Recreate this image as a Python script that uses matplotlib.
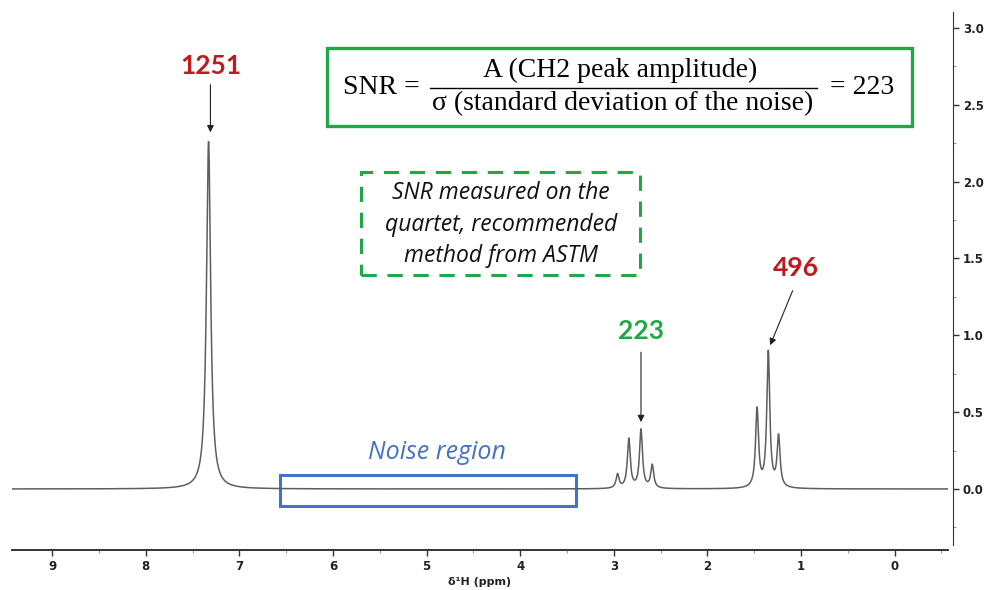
import numpy as np
import matplotlib
matplotlib.use("Agg")
import matplotlib.pyplot as plt
from matplotlib.patches import Rectangle
from matplotlib.ticker import MultipleLocator

# peak table (ppm, height, half width)
peak_ppm = [7.33, 2.96, 2.84, 2.71, 2.59, 1.47, 1.35, 1.24]
peak_height = [2.26, 0.09, 0.32, 0.38, 0.15, 0.51, 0.88, 0.33]
peak_hwhm = [0.027, 0.019, 0.019, 0.019, 0.019, 0.019, 0.019, 0.019]

x_ticks = [9, 8, 7, 6, 5, 4, 3, 2, 1, 0]
y_ticks = [0.0, 0.5, 1.0, 1.5, 2.0, 2.5, 3.0]

snr_labels = ["1251", "223", "496"]

red = "#c0191f"
green = "#20a848"
blue = "#4472c4"

ppm = np.linspace(9.43, -0.57, 8000)
intensity = np.zeros_like(ppm)
for c, h, w in zip(peak_ppm, peak_height, peak_hwhm):
    intensity += h / (1 + ((ppm - c) / w) ** 2)

fig = plt.figure(figsize=(9.84, 5.9), dpi=100)
ax = fig.add_axes([12 / 984, 40 / 590, 936 / 984, 538 / 590])
ax.plot(ppm, intensity, color="#5e5e5e", lw=1.1)
ax.set_xlim(9.43, -0.57)
ax.set_ylim(-0.397, 3.103)

for s in ["left", "top"]:
    ax.spines[s].set_visible(False)
ax.spines["right"].set_position(("outward", 3.6))
ax.spines["right"].set_bounds(-0.365, 3.10)
ax.spines["right"].set_color("#333333")
ax.spines["bottom"].set_color("#333333")
ax.spines["bottom"].set_linewidth(1.4)
ax.yaxis.tick_right()
ax.set_xticks(x_ticks)
ax.set_yticks(y_ticks)
ax.set_yticklabels([f"{v:.1f}" for v in y_ticks])
ax.xaxis.set_minor_locator(MultipleLocator(0.5))
ax.yaxis.set_minor_locator(MultipleLocator(0.25))
ax.tick_params(which="major", length=4, width=1, colors="#333333", labelsize=8.5, pad=3)
ax.tick_params(which="minor", length=2.5, width=0.8, colors="#999999")
for lab in ax.get_xticklabels() + ax.get_yticklabels():
    lab.set_fontweight("bold")
    lab.set_color("#222222")
ax.set_xlabel("δ¹H (ppm)", fontsize=8, fontweight="bold", color="#222222", labelpad=3)

# peak SNR labels
arrow = dict(arrowstyle="-|>", color="#222222", lw=0.8, mutation_scale=10, shrinkA=0, shrinkB=0)
ax.annotate("", xy=(7.31, 2.32), xytext=(7.31, 2.63), arrowprops=arrow)
ax.text(7.31, 2.75, snr_labels[0], color=red, fontsize=19, fontweight="bold",
        family="Lato", ha="center", va="center")
ax.annotate("", xy=(2.71, 0.435), xytext=(2.71, 0.89), arrowprops=arrow)
ax.text(2.71, 1.03, snr_labels[1], color=green, fontsize=19, fontweight="bold",
        family="Lato", ha="center", va="center")
ax.annotate("", xy=(1.33, 0.935), xytext=(1.09, 1.29), arrowprops=arrow)
ax.text(1.06, 1.44, snr_labels[2], color=red, fontsize=19, fontweight="bold",
        family="Lato", ha="center", va="center")

# noise region box
ax.add_patch(Rectangle((3.40, -0.11), 6.57 - 3.40, 0.20, fill=False, ec=blue, lw=2.2))
ax.text(4.89, 0.235, "Noise region", color=blue, fontsize=18, style="italic",
        family="Open Sans", ha="center", va="center")

# formula box (figure pixel coords)
def fx(px):
    return px / 984

def fy(py):
    return 1 - py / 590

fig.patches.append(Rectangle((fx(327), fy(126)), fx(912) - fx(327), fy(48) - fy(126),
                             transform=fig.transFigure, fill=False, ec=green, lw=2.4))
serif = "Liberation Serif"
fig.text(fx(381), fy(88), "SNR =", family=serif, fontsize=20, ha="center", va="center")
fig.text(fx(620), fy(70), "A (CH2 peak amplitude)", family=serif, fontsize=20,
         ha="center", va="center")
fig.add_artist(plt.Line2D([fx(430), fx(817)], [fy(88), fy(88)], transform=fig.transFigure,
                          color="black", lw=1.0))
fig.text(fx(623), fy(104), "σ (standard deviation of the noise)", family=serif, fontsize=20,
         ha="center", va="center")
fig.text(fx(862), fy(88), "= 223", family=serif, fontsize=20, ha="center", va="center")

# dashed note box
fig.patches.append(Rectangle((fx(361), fy(275)), fx(640) - fx(361), fy(172) - fy(275),
                             transform=fig.transFigure, fill=False, ec=green, lw=2.2,
                             ls=(0, (5, 3.5))))
note = ["SNR measured on the", "quartet, recommended", "method from ASTM"]
for i, line in enumerate(note):
    fig.text(fx(501), fy(193 + 31.5 * i), line, family="Open Sans", style="italic",
             fontsize=16.5, ha="center", va="center", color="#111111")

fig.savefig("out.png", dpi=100)
